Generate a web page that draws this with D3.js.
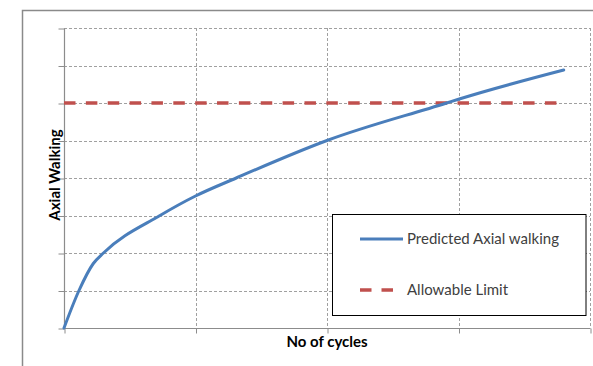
<!DOCTYPE html>
<html><head><meta charset="utf-8">
<script src="https://cdn.jsdelivr.net/npm/d3@7"></script>
<style>body{margin:0;background:#fff}svg{display:block}</style>
</head><body>
<script>
const cycles = [0, 0.114, 0.223, 0.30, 0.73, 1.0, 1.31, 2.0, 2.91, 3.0, 3.8];
const predicted = [0, 1.0, 1.72, 2.0, 3.0, 3.52, 4.0, 5.0, 6.0, 6.1, 6.88];
const limitX = [0, 3.75];
const limitY = [6, 6];
const xTicks = [0, 1, 2, 3, 4];
const yTicks = [0, 1, 2, 3, 4, 5, 6, 7, 8];
const seriesNames = ["Predicted Axial walking", "Allowable Limit"];
const xTitle = "No of cycles", yTitle = "Axial Walking";

const W = 593, H = 366;
const svg = d3.select("body").append("svg").attr("width", W).attr("height", H);
const font = "Lato, Carlito, 'Liberation Sans', sans-serif";

// outer frame
svg.append("path").attr("d", `M22.5,${H+2} V10.5 H${W+2}`).attr("fill","none").attr("stroke","#8a8a8a").attr("stroke-width",1.5);

const L = 64, R = 590, T = 28, B = 328;
const x = d3.scaleLinear().domain([0,4]).range([L,R]);
const y = d3.scaleLinear().domain([0,8]).range([B,T]);

// gridlines
const g = svg.append("g");
g.selectAll(".hg").data(yTicks.filter(d=>d>0)).join("line")
  .attr("x1",L).attr("x2",R).attr("y1",d=>Math.round(y(d))+0.5).attr("y2",d=>Math.round(y(d))+0.5)
  .attr("stroke","#a0a0a0").attr("stroke-dasharray","3,2").attr("stroke-width",1);
g.selectAll(".vg").data(xTicks.filter(d=>d>0)).join("line")
  .attr("y1",T).attr("y2",B).attr("x1",d=>Math.round(x(d))+0.5).attr("x2",d=>Math.round(x(d))+0.5)
  .attr("stroke","#a0a0a0").attr("stroke-dasharray","3,2").attr("stroke-width",1);

// axes
const yAxis = d3.axisLeft(y).tickValues(yTicks).tickSize(6).tickFormat("");
const xAxis = d3.axisBottom(x).tickValues(xTicks).tickSize(5).tickFormat("");
const ya = svg.append("g").attr("transform",`translate(${L+0.5},0.5)`).call(yAxis);
const xa = svg.append("g").attr("transform",`translate(0.5,${B+0.5})`).call(xAxis);
[ya,xa].forEach(a=>{a.selectAll("path,line").attr("stroke","#8c8c8c"); a.select(".domain").attr("stroke-width",1.2);});
ya.select(".domain").attr("d",`M0,${T}V${B}`);
xa.select(".domain").attr("d",`M${L},0H${R}`);

// limit line
const line = d3.line().x(d=>x(d[0])).y(d=>y(d[1]));
svg.append("path").datum(limitX.map((v,i)=>[v,limitY[i]])).attr("d",line)
  .attr("fill","none").attr("stroke","#c0504d").attr("stroke-width",3.5).attr("stroke-dasharray","11.5,10.36");

// predicted curve
const curve = d3.line().x(d=>x(d[0])).y(d=>y(d[1])).curve(d3.curveMonotoneX);
svg.append("path").datum(cycles.map((v,i)=>[v,predicted[i]])).attr("d",curve)
  .attr("fill","none").attr("stroke","#4a7ebb").attr("stroke-width",3).attr("stroke-linecap","round");

// axis titles
svg.append("text").attr("x",327).attr("y",347).attr("text-anchor","middle")
  .attr("font-family",font).attr("font-weight","bold").attr("font-size",15).attr("fill","#000").text(xTitle);
svg.append("text").attr("transform","translate(60,175) rotate(-90)").attr("text-anchor","middle")
  .attr("font-family",font).attr("font-weight","bold").attr("font-size",15).attr("fill","#000").text(yTitle);

// legend
const lg = svg.append("g");
lg.append("rect").attr("x",332.5).attr("y",214.5).attr("width",253.5).attr("height",101)
  .attr("fill","#fff").attr("stroke","#000").attr("stroke-width",1);
const legY = [239, 290];
lg.append("line").attr("x1",360).attr("x2",403).attr("y1",legY[0]).attr("y2",legY[0])
  .attr("stroke","#4a7ebb").attr("stroke-width",3);
lg.append("line").attr("x1",360).attr("x2",393).attr("y1",legY[1]).attr("y2",legY[1])
  .attr("stroke","#c0504d").attr("stroke-width",3.5).attr("stroke-dasharray","11.5,10");
lg.selectAll("text").data(seriesNames).join("text")
  .attr("x",407).attr("y",(d,i)=>legY[i]+5).attr("font-family",font).attr("font-size",15)
  .attr("fill","#404040").text(d=>d);
</script>
</body></html>
